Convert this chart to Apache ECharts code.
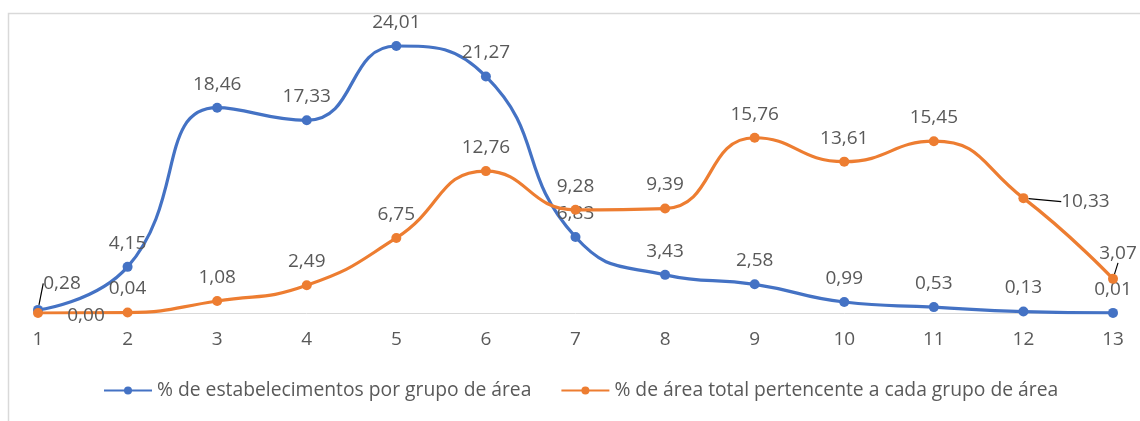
<!DOCTYPE html>
<html>
<head>
<meta charset="utf-8">
<script src="https://cdn.jsdelivr.net/npm/echarts@6/dist/echarts.min.js"></script>
<style>
html,body{margin:0;padding:0;background:#fff;}
#c{width:1140px;height:421px;}
</style>
</head>
<body>
<div id="c"></div>
<script>
const categories = ['1','2','3','4','5','6','7','8','9','10','11','12','13'];
const estabelecimentos = [0.28, 4.15, 18.46, 17.33, 24.01, 21.27, 6.83, 3.43, 2.58, 0.99, 0.53, 0.13, 0.01];
const areaTotal = [0.00, 0.04, 1.08, 2.49, 6.75, 12.76, 9.28, 9.39, 15.76, 13.61, 15.45, 10.33, 3.07];
const seriesNames = ['% de estabelecimentos por grupo de área', '% de área total pertencente a cada grupo de área'];

const fmt = p => p.value.toFixed(2).replace('.', ',');
const font = '"Open Sans", "Noto Sans", sans-serif';
const FS = 19;

// per-point label shifts [dx, dy, leaderLine]
const blueShift = {0: [24, -3, true]};
const orangeShift = {0: [48, 26, false], 11: [62, 27, true], 12: [5, -2, true]};

function buildData(values, shifts) {
  return values.map((v, i) => ({
    value: v,
    labelLine: {show: !!(shifts[i] && shifts[i][2]), lineStyle: {color: '#000', width: 1.2}}
  }));
}
function layoutFor(shifts) {
  return p => shifts[p.dataIndex] ? {dx: shifts[p.dataIndex][0], dy: shifts[p.dataIndex][1]} : {};
}

const chart = echarts.init(document.getElementById('c'));
chart.setOption({
  animation: false,
  textStyle: {fontFamily: font},
  graphic: [{
    type: 'rect', left: 6, top: 11,
    shape: {width: 1200, height: 500},
    style: {fill: 'none', stroke: '#d9d9d9', lineWidth: 1.5},
    silent: true
  }],
  grid: {left: 38, right: 27, top: 35, bottom: 108, containLabel: false},
  legend: {
    bottom: 16, left: 98,
    itemWidth: 48, itemHeight: 10, itemGap: 29,
    textStyle: {color: '#595959', fontSize: 19.3, fontFamily: font},
    data: seriesNames
  },
  xAxis: {
    type: 'category', data: categories, boundaryGap: false,
    axisLine: {lineStyle: {color: '#d9d9d9', width: 1}},
    axisTick: {show: false},
    axisLabel: {color: '#595959', fontSize: FS, margin: 17}
  },
  yAxis: {type: 'value', min: 0, max: 25, show: false, splitLine: {show: false}},
  series: [
    {
      name: seriesNames[0], type: 'line', data: buildData(estabelecimentos, blueShift), smooth: 0.5,
      symbol: 'circle', symbolSize: 10,
      itemStyle: {color: '#4472C4'},
      lineStyle: {width: 3.2, color: '#4472C4'},
      label: {show: true, position: 'top', distance: 9, color: '#595959', fontSize: FS, formatter: fmt},
      labelLayout: layoutFor(blueShift),
      z: 3
    },
    {
      name: seriesNames[1], type: 'line', data: buildData(areaTotal, orangeShift), smooth: 0.5,
      symbol: 'circle', symbolSize: 10,
      itemStyle: {color: '#ED7D31'},
      lineStyle: {width: 3.2, color: '#ED7D31'},
      label: {show: true, position: 'top', distance: 9, color: '#595959', fontSize: FS, formatter: fmt},
      labelLayout: layoutFor(orangeShift),
      z: 4
    }
  ]
});
</script>
</body>
</html>
